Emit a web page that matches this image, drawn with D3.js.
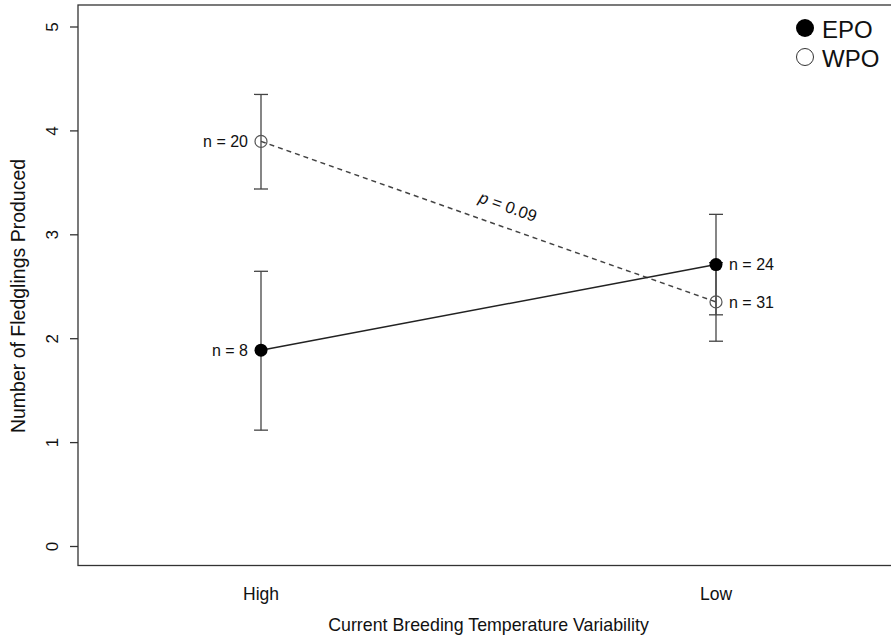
<!DOCTYPE html>
<html>
<head>
<meta charset="utf-8">
<script src="https://cdn.jsdelivr.net/npm/d3@7"></script>
<style>
  body { margin: 0; background: #fff; }
  svg { font-family: "Liberation Sans", Arial, sans-serif; }
</style>
</head>
<body>
<div id="svg"></div>
<script>
var w = 891, h = 638;

// data
var categories = ['High', 'Low'];
var groups = ['EPO', 'WPO'];
var epoMean = [1.885, 2.709];
var epoLow  = [1.115, 2.225];
var epoHigh = [2.644, 3.192];
var wpoMean = [3.894, 2.349];
var wpoLow  = [3.436, 1.971];
var wpoHigh = [4.346, 2.727];
var epoN = [8, 24];
var wpoN = [20, 31];
var yTicks = [0, 1, 2, 3, 4, 5];

var border = { top: 5, bottom: 72, left: 78, right: -5 };

const svg = d3.select('#svg')
  .append('svg')
  .attr('width', w)
  .attr('height', h);

var x = d3.scalePoint()
  .domain(categories)
  .range([261, 716]);

var y = d3.scaleLinear()
  .domain([0, 5])
  .range([546, 26.5]);

// plot box
svg.append('rect')
  .attr('x', border.left)
  .attr('y', border.top)
  .attr('width', w - border.left - border.right)
  .attr('height', h - border.top - border.bottom - 0.5)
  .attr('fill', 'none')
  .attr('stroke', '#333')
  .attr('stroke-width', 1.3);

// y axis
var yAxis = svg.append('g')
  .attr('transform', `translate(${border.left}, 0)`)
  .call(d3.axisLeft(y).tickValues(yTicks).tickSize(8).tickPadding(0).tickFormat(d3.format('d')));
yAxis.select('.domain').remove();
yAxis.selectAll('line').attr('stroke', '#333').attr('stroke-width', 1.3);
yAxis.selectAll('text').remove();
yAxis.selectAll('.tick').append('text')
  .attr('transform', 'translate(-26,0) rotate(-90)')
  .attr('text-anchor', 'middle')
  .attr('dy', '0.35em')
  .attr('fill', '#111')
  .style('font-size', '17px')
  .text(d => d);

// x labels
svg.selectAll('.xlab')
  .data(categories)
  .enter()
  .append('text')
  .attr('class', 'xlab')
  .attr('x', d => x(d))
  .attr('y', 600)
  .attr('text-anchor', 'middle')
  .attr('fill', '#111')
  .style('font-size', '17.5px')
  .text(d => d);

svg.append('text')
  .attr('x', (x('High') + x('Low')) / 2)
  .attr('y', 631)
  .attr('text-anchor', 'middle')
  .attr('fill', '#111')
  .style('font-size', '17.8px')
  .text('Current Breeding Temperature Variability');

svg.append('text')
  .attr('transform', 'rotate(-90)')
  .attr('x', -296)
  .attr('y', 25)
  .attr('text-anchor', 'middle')
  .attr('fill', '#111')
  .style('font-size', '19.5px')
  .text('Number of Fledglings Produced');

var epo = categories.map((c, i) => ({ cat: c, mean: epoMean[i], lo: epoLow[i], hi: epoHigh[i], n: epoN[i] }));
var wpo = categories.map((c, i) => ({ cat: c, mean: wpoMean[i], lo: wpoLow[i], hi: wpoHigh[i], n: wpoN[i] }));

var line = d3.line().x(d => x(d.cat)).y(d => y(d.mean));

// error bars
function drawBars(data) {
  var g = svg.append('g').attr('stroke', '#444').attr('stroke-width', 1.3);
  data.forEach(d => {
    g.append('line').attr('x1', x(d.cat)).attr('x2', x(d.cat)).attr('y1', y(d.lo)).attr('y2', y(d.hi));
    g.append('line').attr('x1', x(d.cat) - 7).attr('x2', x(d.cat) + 7).attr('y1', y(d.lo)).attr('y2', y(d.lo));
    g.append('line').attr('x1', x(d.cat) - 7).attr('x2', x(d.cat) + 7).attr('y1', y(d.hi)).attr('y2', y(d.hi));
  });
}
drawBars(wpo);
drawBars(epo);

svg.append('path')
  .datum(wpo)
  .attr('d', line)
  .attr('fill', 'none')
  .attr('stroke', '#444')
  .attr('stroke-width', 1.5)
  .attr('stroke-dasharray', '5,4');

svg.append('path')
  .datum(epo)
  .attr('d', line)
  .attr('fill', 'none')
  .attr('stroke', '#222')
  .attr('stroke-width', 1.5);

svg.selectAll('.wpo')
  .data(wpo)
  .enter()
  .append('circle')
  .attr('class', 'wpo')
  .attr('cx', d => x(d.cat))
  .attr('cy', d => y(d.mean))
  .attr('r', 6)
  .attr('fill', 'none')
  .attr('stroke', '#555')
  .attr('stroke-width', 1.2);

svg.selectAll('.epo')
  .data(epo)
  .enter()
  .append('circle')
  .attr('class', 'epo')
  .attr('cx', d => x(d.cat))
  .attr('cy', d => y(d.mean))
  .attr('r', 6.5)
  .attr('fill', '#000');

// n labels
function nLabel(d) {
  var left = d.cat === 'High';
  svg.append('text')
    .attr('x', x(d.cat) + (left ? -13 : 13))
    .attr('y', y(d.mean))
    .attr('dy', '0.35em')
    .attr('text-anchor', left ? 'end' : 'start')
    .attr('fill', '#111')
    .style('font-size', '16px')
    .text('n = ' + d.n);
}
epo.forEach(nLabel);
wpo.forEach(nLabel);

// p value along dashed line
var ang = Math.atan2(y(wpo[1].mean) - y(wpo[0].mean), x('Low') - x('High')) * 180 / Math.PI;
var px = 506, py = 212;
var pt = svg.append('text')
  .attr('transform', `translate(${px},${py}) rotate(${ang})`)
  .attr('text-anchor', 'middle')
  .attr('fill', '#111')
  .style('font-size', '16.5px');
pt.append('tspan').style('font-style', 'italic').text('p');
pt.append('tspan').text(' = 0.09');

// legend
var legend = svg.append('g');
groups.forEach((g, i) => {
  var ly = 28 + i * 29;
  legend.append('circle')
    .attr('cx', 805)
    .attr('cy', ly)
    .attr('r', g === 'EPO' ? 9 : 8.5)
    .attr('fill', g === 'EPO' ? '#000' : 'none')
    .attr('stroke', g === 'EPO' ? 'none' : '#333')
    .attr('stroke-width', 1);
  legend.append('text')
    .attr('x', 822)
    .attr('y', ly + 10)
    .attr('fill', '#111')
    .style('font-size', '24px')
    .text(g);
});
</script>
</body>
</html>
